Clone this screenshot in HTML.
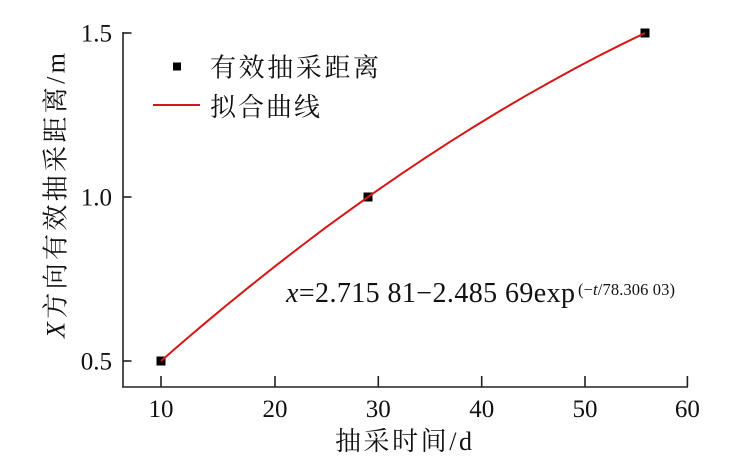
<!DOCTYPE html>
<html>
<head>
<meta charset="utf-8">
<style>
  html, body { margin: 0; padding: 0; background: #fff; }
  body { width: 747px; height: 470px; overflow: hidden; }
  svg { display: block; }
  .num { font-family: "Liberation Serif", "Times New Roman", serif; fill: #111; }
  .cjk { font-family: "Liberation Serif", "Noto Serif CJK SC", serif; fill: #111; }
</style>
</head>
<body>
<svg width="747" height="470" viewBox="0 0 747 470" xmlns="http://www.w3.org/2000/svg">
  <rect x="0" y="0" width="747" height="470" fill="#fff"/>

  <!-- axes -->
  <g stroke="#222" stroke-width="1.6" fill="none">
    <line x1="123" y1="32" x2="123" y2="387.5"/>
    <line x1="122.2" y1="387" x2="688" y2="387"/>
    <line x1="123" y1="33" x2="131.5" y2="33"/>
    <line x1="123" y1="197" x2="131.5" y2="197"/>
    <line x1="123" y1="361" x2="131.5" y2="361"/>
    <line x1="161" y1="376" x2="161" y2="387"/>
    <line x1="275" y1="376" x2="275" y2="387"/>
    <line x1="378.3" y1="376" x2="378.3" y2="387"/>
    <line x1="481.7" y1="376" x2="481.7" y2="387"/>
    <line x1="585" y1="376" x2="585" y2="387"/>
    <line x1="687.4" y1="376" x2="687.4" y2="387"/>
  </g>

  <!-- y tick labels -->
  <g class="num" style="font-size:25px" text-anchor="end">
    <text x="112" y="41.5">1.5</text>
    <text x="112" y="205.5">1.0</text>
    <text x="112" y="369.5">0.5</text>
  </g>

  <!-- x tick labels -->
  <g class="num" style="font-size:25px" text-anchor="middle">
    <text x="161" y="417">10</text>
    <text x="275" y="417">20</text>
    <text x="378.3" y="417">30</text>
    <text x="481.7" y="417">40</text>
    <text x="585" y="417">50</text>
    <text x="687.4" y="417">60</text>
  </g>

  <!-- x axis title -->
  <text class="cjk" style="font-size:26px" x="335" y="450" textLength="137" lengthAdjust="spacing">抽采时间/d</text>

  <!-- y axis title -->
  <g transform="translate(64.5,195.5) rotate(-90)">
    <text class="cjk" style="font-size:26px" x="0" y="0" text-anchor="middle" textLength="285" lengthAdjust="spacing"><tspan style="font-style:italic">X</tspan>方向有效抽采距离/m</text>
  </g>

  <!-- legend -->
  <rect x="173" y="62.5" width="8" height="8" fill="#000"/>
  <text class="cjk" style="font-size:26px" x="210" y="76.5" textLength="169" lengthAdjust="spacing">有效抽采距离</text>
  <line x1="153" y1="105" x2="200" y2="105" stroke="#d81414" stroke-width="2"/>
  <text class="cjk" style="font-size:26px" x="210" y="116" textLength="110" lengthAdjust="spacing">拟合曲线</text>

  <!-- data markers -->
  <rect x="156.5" y="356.5" width="9" height="9" fill="#000"/>
  <rect x="363.5" y="192.5" width="9" height="9" fill="#000"/>
  <rect x="640.5" y="28.5" width="9" height="9" fill="#000"/>

  <!-- fitted curve -->
  <polyline fill="none" stroke="#d81414" stroke-width="2" stroke-linejoin="round"
    points="161,361 175,348.8 190,335.9 205,323.2 225,306.5 250,286.2 275,266.3 300,247.0 325,228.1 350,209.9 368,197 375,192.1 400,174.8 425,158.1 450,141.8 475,126.1 500,110.9 525,96.2 550,82.1 575,68.4 600,55.3 622,44.2 645,33"/>

  <!-- equation -->
  <text class="num" style="font-size:28px" x="286" y="302" textLength="289" lengthAdjust="spacing"><tspan style="font-style:italic">x</tspan>=2.715 81−2.485 69exp</text>
  <text class="num" style="font-size:16.5px" x="578" y="295" textLength="97" lengthAdjust="spacing">(−<tspan style="font-style:italic">t</tspan>/78.306 03)</text>
</svg>
</body>
</html>
